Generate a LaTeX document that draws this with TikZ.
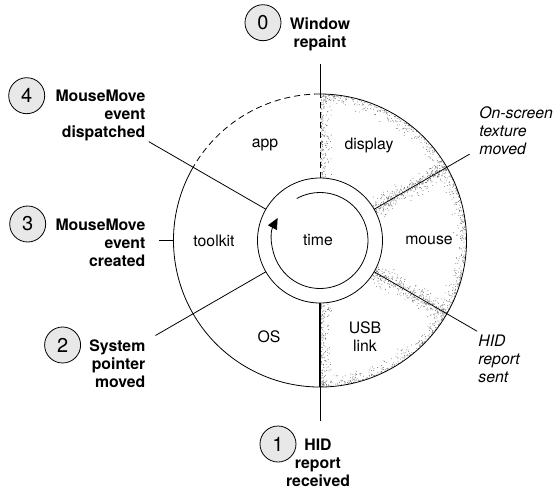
\documentclass[tikz,border=0pt]{standalone}
\usepackage{fontspec}
\setmainfont{TeX Gyre Heros}
\usepackage{tikz}
\usetikzlibrary{calc,positioning,arrows.meta,backgrounds}

\tikzset{
    stage/.style={draw, circle, fill=black!9, minimum size=36pt, inner sep=0pt, font=\fontsize{20}{24}\selectfont},
    event/.style={inner sep=0pt, font=\fontsize{15.8}{18}\selectfont\bfseries},
    hwevent/.style={inner sep=0pt, align=left, font=\fontsize{15.8}{18}\selectfont\itshape},
    speck/.style={fill=black!60},
    edge/.style={dash pattern=on 6pt off 4pt},
}

\begin{document}
\begin{tikzpicture}[x=1pt, y=1pt, align=center, line width=0.8pt, font=\fontsize{15.8}{18}\selectfont]
    \useasboundingbox (-320,-250.5) rectangle (233,240.5);

    % stipple inside the hardware sectors
    \begin{scope}
        \clip (-90:62.5) -- (-90:146.5) arc[start angle=-90, end angle=90, radius=146.5]
            -- (90:62.5) arc[start angle=90, end angle=-90, radius=62.5] -- cycle;
        \pgfmathsetseed{42}
        \foreach \i in {1,...,750} {
            \pgfmathsetmacro{\ang}{-90+180*rnd}
            \pgfmathsetmacro{\rad}{146-13*rnd*rnd}
            \fill[speck] (\ang:\rad) circle (0.45);
        }
        \foreach \t/\s in {90/-1, 30/1, 30/-1, -30/1, -30/-1, -90/1} {
            \pgfmathsetmacro{\dir}{\t+90*\s}
            \foreach \i in {1,...,170} {
                \pgfmathsetmacro{\rad}{63+84*rnd}
                \pgfmathsetmacro{\off}{0.8+12*rnd*rnd}
                \fill[speck] ([shift={(\dir:\off)}]\t:\rad) circle (0.45);
            }
        }
    \end{scope}

    \draw (0,0) circle (62.5);
    \draw[-{Triangle[length=11pt, width=10pt]}] (119:48) arc[start angle=119, end angle=-208, radius=48];
    \draw (150:146.5) arc[start angle=150, end angle=450, radius=146.5];
    \draw[edge] (90:146.5) arc[start angle=90, end angle=150, radius=146.5];
    \draw[edge] (90:62.5) -- (90:146.5);
    \draw[line width=2.2pt] (-90:62.5) -- (-90:146.5);

    \node (time) at (-2,0) {time};
    \node (display) at (49,95.5) {display};
    \node (mouse) at (109,0) {mouse};
    \node (usb) at (45,-96.5) {USB\\link};
    \node (os) at (-51,-96.5) {OS};
    \node (toolkit) at (-106,0) {toolkit};
    \node (app) at (-55,95.5) {app};

    \node[event, anchor=north] (repaint) at (0,223.5) {Window\\repaint};
    \node[event, anchor=north] (received) at (-2,-197.8) {HID\\report\\received};
    \node[event, anchor=north east, align=right] (pointer) at (-174.3,-98.8) {System\\pointer\\moved};
    \node[event, anchor=north east, align=right] (created) at (-174.3,22.2) {MouseMove\\event\\created};
    \node[event, anchor=north east, align=right] (dispatched) at (-174.3,150.5) {MouseMove\\event\\dispatched};
    \node[hwevent, anchor=north west] (texture) at (159,134.5) {On-screen\\texture\\moved};
    \node[hwevent, anchor=north west] (sent) at (158,-94.2) {HID\\report\\sent};

    \node[stage, anchor=east] (num0) at ([xshift=-8pt, yshift=-5.7pt]repaint.north west) {0};
    \node[stage, anchor=east] (num1) at ([xshift=-21.6pt, yshift=-5.7pt]received.north) {1};
    \node[stage, anchor=east] (num2) at ([xshift=-8pt, yshift=-5.7pt]pointer.north west) {2};
    \node[stage, anchor=east] (num3) at ([xshift=-9pt, yshift=-5.7pt]created.north west) {3};
    \node[stage, anchor=east] (num4) at ([xshift=-10pt, yshift=-5.7pt]dispatched.north west) {4};

    \coordinate (tip0) at (90:177);
    \coordinate (tip1) at (-90:180);
    \coordinate (tip2) at (-150:190);
    \coordinate (tip3) at (180:160.7);
    \coordinate (tip4) at (150:197.6);
    \coordinate (tiptexture) at (30:172.7);
    \coordinate (tipsent) at (-30:181.5);

    \draw (90:146.5) -- (tip0);
    \draw (-90:146.5) -- (tip1);
    \draw (-150:62.5) -- (tip2);
    \draw (180:146.5) -- (tip3);
    \draw (150:62.5) -- (tip4);
    \draw (30:62.5) -- (tiptexture);
    \draw (-30:62.5) -- (tipsent);
\end{tikzpicture}
\end{document}
